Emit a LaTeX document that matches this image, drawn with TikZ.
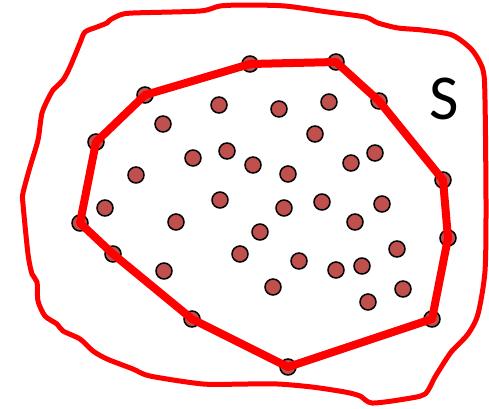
\documentclass[tikz,border=0pt]{standalone}
\usepackage{fontspec}
\newfontfamily\labelfont{Carlito}
\usetikzlibrary{positioning}
\definecolor{hullred}{RGB}{255,0,0}
\definecolor{dotred}{RGB}{192,80,77}

\begin{document}
\begin{tikzpicture}[x=1pt, y=-1pt,
    dot/.style={circle, draw=black, fill=dotred, line width=1.5pt,
                minimum size=16pt, inner sep=0pt},
    hull/.style={draw=hullred, line width=8pt, line join=round},
    blob/.style={draw=hullred, line width=5pt, line join=round, line cap=round}
]
    \useasboundingbox (0,0) rectangle (489,408);
    % the set S
    \draw[blob] plot[smooth cycle, tension=0.45] coordinates {
        (245,5) (285,6) (328,12) (365,17) (378,23) (398,28) (422,30) (452,35)
        (472,50) (483,70) (485,100) (486,204) (485,271) (478,314) (468,334)
        (452,351) (445,361) (435,377) (425,394) (405,399) (372,403) (360,396)
        (345,392) (312,387) (278,384) (245,384) (203,384) (150,376) (133,369)
        (107,359) (93,351) (80,339) (63,331) (57,324) (45,316) (38,301)
        (37,282) (32,274) (28,254) (23,204) (23,193) (30,167) (38,140)
        (42,113) (50,95) (53,90) (63,80) (70,67) (80,43) (85,32) (97,27)
        (107,23) (110,20) (120,15) (133,13) (200,11) (220,6)};
    \node[font=\labelfont\fontsize{64}{64}\selectfont] (s) at (444,99) {S};
    % inner points
    \foreach \px/\py [count=\i] in {219/105, 163/124, 279/109, 329/102, 315/134,
        227/151, 193/158, 253/165, 288/174, 351/163, 375/153, 136/175,
        105/208, 176/222, 220/200, 284/208, 322/202, 355/222, 382/204,
        260/232, 240/254, 299/261, 164/271, 336/270, 362/266, 397/249,
        273/287, 368/302, 403/289}
        \node[dot] (p\i) at (\px,\py) {};
    % hull points
    \node[dot] (h1) at (145,95) {};
    \node[dot] (h2) at (250,64) {};
    \node[dot] (h3) at (336,62) {};
    \node[dot] (h4) at (379,101) {};
    \node[dot] (h5) at (443,180) {};
    \node[dot] (h6) at (448,238) {};
    \node[dot] (h7) at (432,319) {};
    \node[dot] (h8) at (288,367) {};
    \node[dot] (h9) at (192,319) {};
    \node[dot] (h10) at (113,254) {};
    \node[dot] (h11) at (80,223) {};
    \node[dot] (h12) at (96,142) {};
    \draw[hull] (h1.center) -- (h2.center) -- (h3.center) -- (h4.center)
        -- (h5.center) -- (h6.center) -- (h7.center) -- (h8.center)
        -- (h9.center) -- (h10.center) -- (h11.center) -- (h12.center) -- cycle;
\end{tikzpicture}
\end{document}
